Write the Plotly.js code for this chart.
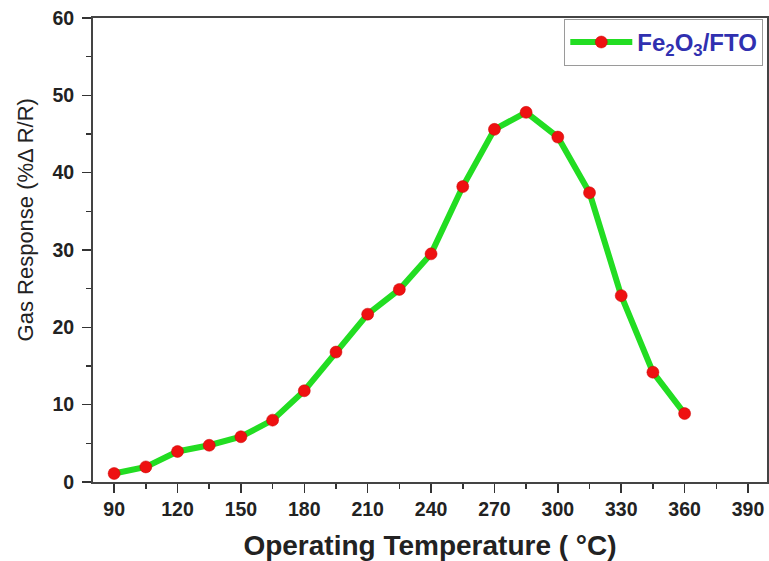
<!DOCTYPE html>
<html>
<head>
<meta charset="utf-8">
<script src="https://cdn.plot.ly/plotly-3.0.1.min.js"></script>
<style>html,body{margin:0;padding:0;background:#fff;}#chart{width:769px;height:561px;}</style>
</head>
<body>
<div id="chart"></div>
<script>
const temperature = [90, 105, 120, 135, 150, 165, 180, 195, 210, 225, 240, 255, 270, 285, 300, 315, 330, 345, 360];
const gasResponse = [1.1, 1.95, 3.95, 4.75, 5.85, 8.0, 11.8, 16.8, 21.7, 24.9, 29.5, 38.2, 45.6, 47.8, 44.6, 37.4, 24.1, 14.2, 8.85];
const xTicks = [90, 120, 150, 180, 210, 240, 270, 300, 330, 360, 390];
const yTicks = [0, 10, 20, 30, 40, 50, 60];
const seriesName = 'Fe<sub>2</sub>O<sub>3</sub>/FTO';

const fontFam = '"Liberation Sans", Arial, sans-serif';

const trace = {
  x: temperature,
  y: gasResponse,
  type: 'scatter',
  mode: 'lines+markers',
  name: seriesName,
  line: {color: '#22dd22', width: 6},
  marker: {color: '#ee1111', size: 12, line: {color: '#cc0000', width: 0.5}}
};

const layout = {
  width: 769,
  height: 561,
  margin: {l: 93, r: 2, t: 18, b: 79},
  paper_bgcolor: '#ffffff',
  plot_bgcolor: '#ffffff',
  showlegend: true,
  legend: {
    x: 0.9945, y: 0.998, xanchor: 'right', yanchor: 'top',
    bordercolor: '#9a9a9a', borderwidth: 1, bgcolor: '#ffffff',
    font: {family: fontFam, size: 24, color: '#3030b0', weight: 'bold'},
    itemwidth: 62
  },
  xaxis: {
    range: [80, 399],
    tickvals: xTicks,
    ticktext: xTicks.map(String),
    ticks: 'outside', ticklen: 9, tickwidth: 1.5, tickcolor: '#333',
    minor: {dtick: 15, tick0: 90, ticks: 'outside', ticklen: 5, tickwidth: 1.5, tickcolor: '#333'},
    showline: true, linecolor: '#444', linewidth: 2, mirror: true,
    showgrid: false, zeroline: false,
    tickfont: {family: fontFam, size: 19.5, color: '#222', weight: 'bold'},
    title: {text: 'Operating Temperature ( °C)', font: {family: fontFam, size: 28, color: '#222', weight: 'bold'}, standoff: 18}
  },
  yaxis: {
    range: [0, 60],
    tickvals: yTicks,
    ticktext: yTicks.map(String),
    ticks: 'outside', ticklen: 9, tickwidth: 1.5, tickcolor: '#333',
    ticklabelstandoff: 4,
    minor: {dtick: 5, tick0: 0, ticks: 'outside', ticklen: 5, tickwidth: 1.5, tickcolor: '#333'},
    showline: true, linecolor: '#444', linewidth: 2, mirror: true,
    showgrid: false, zeroline: false,
    tickfont: {family: fontFam, size: 19.5, color: '#222', weight: 'bold'},
    title: {text: ''}
  },
  annotations: [{
    text: 'Gas Response (%Δ R/R)',
    xref: 'paper', yref: 'paper', x: -0.1, y: 0.565,
    xanchor: 'center', yanchor: 'middle', textangle: -90, showarrow: false,
    font: {family: fontFam, size: 22, color: '#222'}
  }]
};

Plotly.newPlot('chart', [trace], layout, {displayModeBar: false, staticPlot: true});
</script>
</body>
</html>
